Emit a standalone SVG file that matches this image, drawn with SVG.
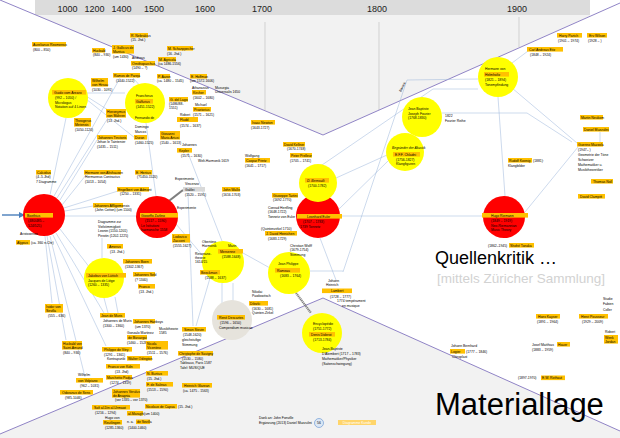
<svg xmlns="http://www.w3.org/2000/svg" width="620" height="438" viewBox="0 0 620 438">
<style>
.t{font-family:"Liberation Sans",Arial,sans-serif;font-size:3.4px;fill:#000}
.i{font-style:italic}
.b{fill:#ffc000}
.gb{fill:#d9d9d9}
.c{stroke:#9ab5da;stroke-width:0.5;fill:none}
.y{fill:#ffff00}
.r{fill:#ff0000}
.v{stroke:#8376bf;stroke-width:0.9;fill:none}
.gl{stroke:#c4c4c4;stroke-width:0.7}
.yr{font-family:"Liberation Sans",Arial,sans-serif;font-size:9px;fill:#222;text-anchor:middle}
.thick{stroke:#7f7f7f;stroke-width:2.2;fill:none}
</style>
<defs>
<marker id="ah" markerWidth="6" markerHeight="6" refX="5" refY="3" orient="auto" markerUnits="userSpaceOnUse"><path d="M0,0 L6,3 L0,6 z" fill="#4a7ebb"/></marker>
</defs>
<rect width="620" height="438" fill="#ffffff"/>
<g id="background">
<polygon points="35,0 590,0 590,16 323,135 35,15" fill="#f2f2f2"/>
<rect x="35" y="0" width="555" height="15" fill="#dcdcdc"/>
<polygon points="0,434 323,298 620,431 620,438 0,438" fill="#f2f2f2"/>
<line class="gl" x1="265" y1="22" x2="265" y2="110"/>
<line class="gl" x1="379" y1="22" x2="379" y2="110"/>
<line class="gl" x1="519" y1="17" x2="519" y2="47"/>
<polyline class="v" points="0,0 323,135 620,3"/>
<polyline class="v" points="0,434 323,298 620,431"/>
<text class="yr" x="67.5" y="11.5">1000</text>
<text class="yr" x="94.5" y="11.5">1200</text>
<text class="yr" x="121.5" y="11.5">1400</text>
<text class="yr" x="154" y="11.5">1500</text>
<text class="yr" x="205" y="11.5">1600</text>
<text class="yr" x="262" y="11.5">1700</text>
<text class="yr" x="377" y="11.5">1800</text>
<text class="yr" x="517" y="11.5">1900</text>
</g>
<g id="connectors">
<path class="c" d="M50,195 L66,118 M54,196 L120,78 M57,198 L108,118 M60,200 L97,140 M62,205 L86,175 M64,208 L118,191 M65,211 L93,206 M65,216 L136,216 M60,229 L90,268 M56,233 L104,313 M53,235 L106,346 M50,236 L85,377 M47,236 L66,340 M45,236 L52,303"/>
<path class="c" d="M86,93 L125,93 M86,96 L108,110 M86,99 L135,138 M133,78 L143,89 M146,123 L156,196 M102,238 L102,258 M104,298 L108,313 M115,297 L118,313"/>
<path class="c" d="M188,193 L193,326 M210,278 L196,326 M188,153 L222,241 M176,224 L203,256 M243,253 L270,268 M222,283 L222,315 M233,283 L233,315 M310,271 L343,271 M320,238 L336,280 M340,216 L482,216 M336,178 L387,155 M338,210 L389,160"/>
<path class="c" d="M478,79 L407,80 L343,272 M478,89 L433,89 L322,165 M442,113 L527,113 L572,142 M498,97 L505,196 M512,88 L577,143 M528,51 L512,63 M600,132 L600,142 M525,212 L578,147"/>
<line class="thick" x1="165" y1="204" x2="183" y2="190"/>
<line class="thick" x1="296" y1="293" x2="311" y2="313" stroke-dasharray="1.2,0.6"/>
<line x1="2" y1="215" x2="24" y2="215" stroke="#4a7ebb" stroke-width="1.4" marker-end="url(#ah)"/>
</g>

<g id="n-boethius"><circle class="r" cx="44" cy="215" r="21"/><rect class="b" x="25" y="213" width="28" height="4.6"/><text class="t" x="27" y="216.5">Boethius</text><text class="t" x="28" y="222">(480/485 –</text><text class="t" x="28" y="226.5">524/525)</text></g>
<g id="n-zarlino"><circle class="r" cx="157" cy="217" r="21"/><rect class="b" x="140" y="213" width="38" height="4.6"/><text class="t" x="141" y="216.5">Gioseffo Zarlino</text><text class="t" x="145" y="222">(1517 – 1590)</text><text class="t" x="141" y="226.5">Le Istitutioni</text><text class="t" x="141" y="231">harmoniche 1558</text></g>
<g id="n-euler"><circle class="r" cx="318" cy="216" r="22"/><rect class="b" x="297" y="214" width="45" height="4.6"/><text class="t" x="307" y="217.5">Leonhard Euler</text><text class="t" x="303" y="223">(1707 – 1783)</text><text class="t" x="300" y="227.5">1739 Tonnetz</text></g>
<g id="n-riemann"><circle class="r" cx="504" cy="217" r="21"/><rect class="b" x="482" y="213" width="46" height="4.6"/><text class="t" x="491" y="216.5">Hugo Riemann</text><text class="t" x="491" y="222">(1849 – 1919)</text><text class="t" x="491" y="226.5">Neo-Riemannian</text><text class="t" x="491" y="231">Music Theory</text></g>

<g id="n-guido"><circle class="y" cx="68" cy="98" r="20"/><rect class="b" x="52" y="90" width="34" height="4.6"/><text class="t" x="54" y="93.5">Guido vom Arezzo</text><text class="t" x="55" y="99">(992 – 1050) /</text><text class="t" x="55" y="103.5">Micrologus</text><text class="t" x="55" y="108">Notation auf 4 Linien</text></g>
<g id="n-gafurius"><circle class="y" cx="145" cy="103" r="20"/><text class="t" x="136" y="97">Franchinus</text><rect class="b" x="135" y="99" width="18" height="4.6"/><text class="t" x="136" y="102.5">Gaffurius</text><text class="t" x="136" y="108">(1451-1522)</text><text class="t" x="135" y="119">Fernando de</text></g>
<g id="n-fourier"><circle class="y" cx="422" cy="117" r="20"/><text class="t" x="408" y="110">Jean Baptiste</text><text class="t" x="408" y="114.5">Joseph Fourier</text><text class="t" x="408" y="119">(1768-1830)</text><text class="t" x="445" y="117">1822</text><text class="t" x="445" y="121.5">Fourier Reihe</text></g>
<g id="n-helmholtz"><circle class="y" cx="498" cy="77" r="20"/><text class="t" x="485" y="70">Hermann von</text><rect class="b" x="484" y="72" width="25" height="4.6"/><text class="t" x="485" y="75.5">Helmholtz</text><text class="t" x="485" y="81">(1821 – 1894)</text><text class="t" x="485" y="85.5">Tonempfindung</text></g>
<g id="n-chladni"><circle class="y" cx="405" cy="152" r="19"/><text class="t i" x="392" y="149">Begründer der Akustik</text><rect class="b" x="393" y="152" width="27" height="4.6"/><text class="t" x="395" y="155.5">E.F.F. Chladni</text><text class="t" x="396" y="160.5">(1756-1827)</text><text class="t" x="396" y="165">Klangfiguren</text></g>
<g id="n-bernoulli"><circle class="y" cx="318" cy="183" r="19"/><rect class="b" x="305" y="178" width="24" height="4.6"/><text class="t i" x="307" y="181.5">D. Bernoulli</text><text class="t" x="308" y="187">(1700-1782)</text></g>
<g id="n-mersenne"><circle class="y" cx="223" cy="262" r="21"/><text class="t" x="228" y="247">Marin</text><rect class="b" x="218" y="249" width="25" height="4.6"/><text class="t" x="220" y="252.5">Mersenne</text><text class="t" x="222" y="257.5">(1588-1648)</text></g>
<g id="n-rameau"><circle class="y" cx="289" cy="273" r="21"/><text class="t" x="278" y="265">Jean Philippe</text><rect class="b" x="275" y="268" width="25" height="4.6"/><text class="t" x="277" y="271.5">Rameau</text><text class="t" x="280" y="277">(1683 – 1764)</text></g>
<g id="n-jakobus"><circle class="y" cx="104" cy="278" r="20"/><rect class="b" x="86" y="273" width="40" height="4.6"/><text class="t" x="88" y="276.5">Jakobus von Lüttich</text><text class="t" x="88" y="281.5">Jacques de Liège</text><text class="t" x="88" y="286">(1260 – 1335)</text></g>
<g id="n-diderot"><circle class="y" cx="322" cy="333" r="20"/><text class="t" x="313" y="325">Encyclopédie</text><text class="t" x="313" y="329.5">(1751-1772)</text><rect class="b" x="309" y="332" width="26" height="4.6"/><text class="t" x="311" y="335.5">Denis Diderot</text><text class="t" x="313" y="341">(1713-1784)</text></g>
<g id="n-descartes"><circle cx="232" cy="320" r="20" fill="#e6e3dc"/><rect class="b" x="217" y="315" width="28" height="4.6"/><text class="t" x="219" y="318.5">René Descartes</text><text class="t" x="220" y="324">(1596 – 1650)</text><text class="t" x="219" y="328.5">Compendium musicae</text></g>

<g id="n-aurelianus"><rect class="b" x="32" y="42" width="34" height="4.6"/><text class="t" x="33" y="45.5">Aurelianus Reomensis</text><text class="t" x="33" y="51">(800 – 850)</text></g>
<g id="n-hucbald"><rect class="b" x="92" y="48" width="13" height="4.6"/><text class="t" x="93" y="51.5">Hucbald</text><text class="t" x="93" y="56">(840 – 930)</text></g>
<g id="n-nebra"><rect class="b" x="130" y="33" width="18" height="4.6"/><text class="t" x="131" y="36.5">R. Nebrakius</text><text class="t" x="131" y="41">(15. Jhd.)</text></g>
<g id="n-gallicus"><rect class="b" x="112" y="45" width="22" height="8.6"/><text class="t" x="113" y="48.5">J. Gallicus de</text><text class="t" x="113" y="52.5">Mantua</text><text class="t" x="113" y="57.5">(um 1430)</text></g>
<g id="n-ornitho"><text class="t" x="132" y="58.5">Andreas</text><rect class="b" x="131" y="61" width="24" height="4.6"/><text class="t" x="132" y="64.5">Ornithoparchus</text><text class="t" x="132" y="69">(1490 – ?)</text></g>
<g id="n-ramos"><rect class="b" x="113" y="73" width="27" height="4.6"/><text class="t" x="114" y="76.5">Ramos de Pareja</text><text class="t" x="116" y="81.5">(1440-1522)</text></g>
<g id="n-hirsau"><rect class="b" x="91" y="78" width="17" height="8.6"/><text class="t" x="92" y="81.5">Wilhelm</text><text class="t" x="92" y="85.5">von Hirsau</text><text class="t" x="92" y="91">(1030 - 1091)</text></g>
<g id="n-theogerus"><rect class="b" x="74" y="118" width="17" height="8.6"/><text class="t" x="75" y="121.5">Theogerus</text><text class="t" x="75" y="125.5">Metensis</text><text class="t" x="75" y="130.5">(1050-1120)</text></g>
<g id="n-hieronymus"><rect class="b" x="106" y="109" width="20" height="8.6"/><text class="t" x="107" y="112.5">Hieronymus</text><text class="t" x="107" y="116.5">von Mähren</text><text class="t" x="107" y="121.5">(13. Jhd.)</text></g>
<g id="n-duran"><text class="t" x="135" y="128">Domingo</text><text class="t" x="135" y="132.5">Marcos</text><rect class="b" x="134" y="135" width="13" height="4.6"/><text class="t" x="135" y="138.5">Duran</text><text class="t" x="135" y="144">(1460-1525)</text></g>
<g id="n-tinctoris"><rect class="b" x="97" y="135" width="30" height="4.6"/><text class="t" x="98" y="138.5">Johannes Tinctoris</text><text class="t" x="97" y="143">Jehan le Taintenier</text><text class="t" x="97" y="147.5">(1435 – 1511)</text></g>
<g id="n-schanppecher"><rect class="b" x="167" y="46" width="26" height="4.6"/><text class="t" x="168" y="49.5">M. Schanppecher</text><text class="t" x="167" y="54.5">(16. Jhd.)</text></g>
<g id="n-agricola"><rect class="b" x="158" y="57" width="18" height="4.6"/><text class="t" x="159" y="60.5">M. Agricola</text><text class="t" x="158" y="65">(ca 1486-1556)</text></g>
<g id="n-aaron"><rect class="b" x="157" y="74" width="13" height="4.6"/><text class="t" x="158" y="77.5">P. Aaron</text><text class="t" x="157" y="82">(ca. 1480 – 1545)</text></g>
<g id="n-hoffman"><rect class="b" x="190" y="74" width="17" height="4.6"/><text class="t" x="191" y="77.5">E. Hoffman</text><text class="t" x="190" y="82">(um 1572-1606)</text></g>
<g id="n-kircher"><text class="t" x="192" y="88.5">Athanasius</text><rect class="b" x="192" y="90" width="14" height="4.6"/><text class="t" x="193" y="93.5">Kircher</text><text class="t" x="193" y="98.5">(1602 – 1680)</text><text class="t" x="215" y="88.5">Musurgia</text><text class="t" x="215" y="93">Universalis 1650</text></g>
<g id="n-dellago"><rect class="b" x="169" y="97" width="19" height="4.6"/><text class="t" x="170" y="100.5">G. del Lago</text><text class="t" x="169" y="105">(1486/88-</text><text class="t" x="169" y="109">1551)</text></g>
<g id="n-praetorius"><text class="t" x="195" y="105.5">Michael</text><rect class="b" x="193" y="107" width="18" height="4.6"/><text class="t" x="194" y="110.5">Praetorius</text><text class="t" x="193" y="115.5">(1571 – 1621)</text></g>
<g id="n-fludd"><text class="t" x="180" y="115.5">Robert</text><rect class="b" x="177" y="117" width="21" height="5"/><text class="t" x="180" y="120.8">Fludd</text><text class="t" x="180" y="126.5">(1574 – 1637)</text></g>
<g id="n-artusi"><rect class="b" x="160" y="131" width="20" height="8.6"/><text class="t" x="161" y="134.5">Giovanni</text><text class="t" x="161" y="138.5">Maria Artusi</text><text class="t" x="160" y="143.5">(1540 – 1613)</text></g>
<g id="n-kepler"><text class="t" x="182" y="145.5">Johannes</text><rect class="b" x="177" y="148" width="15" height="4.6"/><text class="t" x="179" y="151.5">Kepler</text><text class="t" x="181" y="156.5">(1571 – 1630)</text><text class="t" x="198" y="161.5">Welt-Harmonik 1619</text></g>
<g id="n-newton"><rect class="b" x="251" y="120" width="24" height="4.6"/><text class="t" x="252" y="123.5">Isaac Newton</text><text class="t" x="251" y="128.5">(1643-1727)</text></g>
<g id="n-kellner"><rect class="b" x="283" y="142" width="22" height="4.6"/><text class="t" x="284" y="145.5">David Kellner</text><text class="t" x="287" y="150">(1670-1748)</text></g>
<g id="n-prelleur"><rect class="b" x="290" y="153" width="22" height="4.6"/><text class="t" x="291" y="156.5">Peter Prelleur</text><text class="t" x="290" y="161.5">(1705 – 1741)</text></g>
<g id="n-printz"><text class="t" x="245" y="156.5">Wolfgang</text><rect class="b" x="245" y="158" width="25" height="4.6"/><text class="t" x="246" y="161.5">Caspar Printz</text><text class="t" x="245" y="166.5">(1641 – 1717)</text></g>
<g id="n-wallis"><rect class="b" x="222" y="187" width="18" height="4.6"/><text class="t" x="223" y="190.5">John Wallis</text><text class="t" x="222" y="195.5">(1616-1703)</text></g>
<g id="n-galilei"><text class="t" x="175" y="179.5">Experimente</text><text class="t" x="185" y="185">Vincenzo</text><rect class="gb" x="183" y="187" width="22" height="4.6"/><text class="t" x="185" y="190.5">Galilei</text><text class="t" x="185" y="196">(1520 – 1591)</text><text class="t" x="177" y="208.5">Experimente</text></g>
<g id="n-tartini"><rect class="b" x="272" y="193" width="26" height="4.6"/><text class="t" x="273" y="196.5">Giuseppe Tartini</text><text class="t" x="273" y="201">(1692-1770)</text></g>
<g id="n-henfling"><text class="t" x="268" y="208.5">Conrad Henfling</text><text class="t" x="268" y="213">(1648-1722)</text><text class="t" x="268" y="217.5">Tonnetz von Euler</text></g>
<g id="n-heinichen"><text class="t" x="261" y="229.5">(Quintenzirkel 1710)</text><rect class="b" x="265" y="231" width="32" height="4.6"/><text class="t" x="266" y="234.5">J. David Heinichen</text><text class="t" x="268" y="240">(1683-1729)</text></g>
<g id="n-wolff"><text class="t" x="290" y="246.5">Christian Wolff</text><text class="t" x="290" y="251">(1679-1754)</text><text class="t" x="290" y="255.5">Stimmung</text></g>
<g id="n-obertone"><text class="t" x="202" y="242.5">Obertöne</text><text class="t" x="202" y="246.5">Harmonik</text></g>
<g id="n-beeckman"><text class="t" x="195" y="254.5">Resonanz-</text><text class="t" x="195" y="258.5">theorie</text><text class="t" x="195" y="262.5">1614/15</text><rect class="b" x="200" y="270" width="20" height="4.6"/><text class="t" x="201" y="273.5">Beeckman</text><text class="t" x="205" y="279">(1588 – 1637)</text></g>
<g id="n-zacconi"><rect class="b" x="172" y="234" width="18" height="8.6"/><text class="t" x="173" y="237.5">Lodovico</text><text class="t" x="173" y="241.5">Zacconi</text><text class="t" x="173" y="246.5">(1555-1627)</text></g>
<g id="n-aristoxenos"><text class="t" x="20" y="234.5">Aristoxenos</text></g>
<g id="n-alypius"><rect class="b" x="16" y="240" width="14" height="4.6"/><text class="t" x="17" y="243.5">Alypius</text><text class="t" x="31" y="243.5">(ca. 360 n.Chr)</text></g>
<g id="n-calcidius"><rect class="b" x="36" y="170" width="15" height="4.6"/><text class="t" x="37" y="173.5">Calcidius</text><text class="t" x="36" y="178">(4.-5.Jhd)</text><text class="t" x="36" y="182.5">7 Diagramme</text></g>
<g id="n-hermann"><rect class="b" x="84" y="170" width="37" height="4.6"/><text class="t" x="85" y="173.5">Hermann von Altshausen</text><text class="t" x="85" y="178">Hermannus Contractus</text><text class="t" x="85" y="182.5">(1013 – 1054)</text></g>
<g id="n-hertius"><rect class="b" x="135" y="170" width="17" height="4.6"/><text class="t" x="136" y="173.5">E. Hertius</text><text class="t" x="137" y="178">(?1450-1520)</text></g>
<g id="n-engelbert"><rect class="b" x="117" y="187" width="32" height="4.6"/><text class="t" x="118" y="190.5">Engelbert von Admont</text><text class="t" x="120" y="195">(1250 – 1331)</text></g>
<g id="n-affligem"><rect class="b" x="93" y="203" width="30" height="4.6"/><text class="t" x="94" y="206.5">Johannes Affligemensis</text><text class="t" x="95" y="211">(John Cotton) (um 1100)</text></g>
<g id="n-diagramme"><text class="t" x="98" y="223">Diagramme zur</text><text class="t" x="98" y="227.5">Vielstimmigkeit</text><text class="t" x="98" y="232">Leonin (1150-1201)</text><text class="t" x="98" y="236.5">Perotin (1202-1225)</text></g>
<g id="n-amerus"><rect class="b" x="107" y="244" width="16" height="4.6"/><text class="t" x="109" y="247.5">Amerus</text><text class="t" x="110" y="252.5">(13. Jhd.)</text></g>
<g id="n-boen"><rect class="b" x="123" y="259" width="29" height="4.6"/><text class="t" x="125" y="262.5">Johannes Boen</text><text class="t" x="125" y="267.5">(1302-1367)</text></g>
<g id="n-johsel"><rect class="b" x="133" y="272" width="22" height="4.6"/><text class="t" x="134" y="275.5">Johannes Seld</text><text class="t" x="135" y="280.5">(? 1340)</text></g>
<g id="n-franco2"><rect class="b" x="138" y="284" width="17" height="4.6"/><text class="t" x="139" y="287.5">Franco</text><text class="t" x="139" y="292.5">(13. Jhd.)</text></g>
<g id="n-isidor"><rect class="b" x="45" y="304" width="18" height="8.6"/><text class="t" x="46" y="307.5">Isidor von</text><text class="t" x="46" y="311.5">Sevilla</text><text class="t" x="48" y="317">(555 – 636)</text></g>
<g id="n-muris"><rect class="b" x="100" y="313" width="25" height="4.6"/><text class="t" x="101" y="316.5">Jean de Muris</text><text class="t" x="103" y="322">Johannes de Muris</text><text class="t" x="103" y="326.5">(1300 – 1360)</text></g>
<g id="n-hanboys"><rect class="b" x="133" y="319" width="22" height="4.6"/><text class="t" x="134" y="322.5">Johannes Hanboys</text><text class="t" x="135" y="327.5">(um 1370)</text></g>
<g id="n-bizcargui"><text class="t" x="127" y="333.5">Gonzalo Martinez</text><rect class="b" x="127" y="335" width="20" height="4.6"/><text class="t" x="128" y="338.5">de Bizcargui</text><text class="t" x="127" y="344">(1460 – 1528)</text></g>
<g id="n-hucbald2"><rect class="b" x="62" y="341" width="20" height="8.6"/><text class="t" x="63" y="344.5">Hucbald von</text><text class="t" x="63" y="348.5">Saint-Amand</text><text class="t" x="63" y="354">(840 – 930)</text></g>
<g id="n-vitry"><rect class="b" x="102" y="347" width="30" height="4.6"/><text class="t" x="104" y="350.5">Philippe de Vitry</text><text class="t" x="104" y="355.5">(1291 – 1361)</text><text class="t" x="107" y="360">Kontrapunkt</text></g>
<g id="n-odington"><rect class="b" x="127" y="356" width="25" height="4.6"/><text class="t" x="128" y="359.5">Walter Odington</text></g>
<g id="n-franco"><rect class="b" x="106" y="364" width="34" height="4.6"/><text class="t" x="108" y="367.5">Franco von Köln</text><text class="t" x="115" y="372.5">(13. Jhd)</text></g>
<g id="n-marchetto"><rect class="b" x="106" y="375" width="26" height="4.6"/><text class="t" x="107" y="378.5">Marchetto Padua</text><text class="t" x="110" y="383.5">(1274 – 1319)</text></g>
<g id="n-volpiano"><text class="t" x="78" y="375.5">Wilhelm</text><rect class="b" x="76" y="378" width="27" height="4.6"/><text class="t" x="78" y="381.5">von Volpiano</text><text class="t" x="80" y="386.5">(962 – 1031)</text></g>
<g id="n-odoranus"><rect class="b" x="60" y="390" width="33" height="4.6"/><text class="t" x="62" y="393.5">Odoranus de Sens</text><text class="t" x="65" y="398.5">(985-1046)</text></g>
<g id="n-verulus"><rect class="b" x="112" y="389" width="28" height="8.6"/><text class="t" x="113" y="392.5">Johannes Verulus</text><text class="t" x="113" y="396.5">de Anagnia</text><text class="t" x="115" y="401">(vor 1335 – vor 1370)</text></g>
<g id="n-safi"><rect class="b" x="92" y="405" width="38" height="4.6"/><text class="t" x="94" y="408.5">Safi al-Din al-Urmawi</text><text class="t" x="95" y="413.5">(1216 – 1294)</text></g>
<g id="n-hugo"><text class="t" x="105" y="418.5">Hugo von</text><rect class="b" x="103" y="420" width="19" height="4.6"/><text class="t" x="104" y="423.5">Reutlingen</text><text class="t" x="105" y="429">(1285-1360)</text></g>
<g id="n-maraghi"><rect class="b" x="127" y="411" width="16" height="4.6"/><text class="t" x="128" y="414.5">al-Maraghi</text><text class="t" x="144" y="414.5">(um 1400)</text></g>
<g id="n-sevilla"><text class="t" x="127" y="423">n. a.</text><rect class="b" x="136" y="419.5" width="14" height="4.6"/><text class="t" x="137" y="423">de Sevilla</text><text class="t" x="128" y="429">(1400-1460)</text></g>
<g id="n-vicentino"><rect class="b" x="146" y="341" width="22" height="8.6"/><text class="t" x="147" y="344.5">Nicola</text><text class="t" x="147" y="348.5">Vicentino</text><text class="t" x="147" y="354">(1511 – 1576)</text></g>
<g id="n-burtius"><rect class="b" x="146" y="371" width="22" height="4.6"/><text class="t" x="147" y="374.5">N. Burtius</text><text class="t" x="147" y="379.5">(15. Jhd.)</text></g>
<g id="n-salinas"><rect class="b" x="146" y="382" width="27" height="4.6"/><text class="t" x="147" y="385.5">F. de Salinas</text><text class="t" x="147" y="390.5">(1513 – 1590)</text></g>
<g id="n-glarean"><rect class="b" x="182" y="383" width="30" height="4.6"/><text class="t" x="184" y="386.5">Heinrich Glarean</text><text class="t" x="183" y="391.5">(ca. 1475 - 1563)</text></g>
<g id="n-capua"><rect class="b" x="145" y="404" width="32" height="4.6"/><text class="t" x="146" y="407.5">Nicolaus de Capua</text><text class="t" x="178" y="407.5">(15. Jhd.)</text></g>
<g id="n-stevin"><text class="t" x="159" y="330">Musiktheorie</text><text class="t" x="159" y="334">1585</text><rect class="b" x="182" y="327" width="24" height="4.6"/><text class="t" x="184" y="330.5">Simon Stevin</text><text class="t" x="183" y="336">(1548-1620)</text><text class="t" x="182" y="341">gleichstufige</text><text class="t" x="182" y="345.5">Stimmung</text></g>
<g id="n-savigny"><rect class="b" x="178" y="351" width="35" height="4.6"/><text class="t" x="179" y="354.5">Christophe de Savigny</text><text class="t" x="182" y="359.5">(1530 – 1580)</text><text class="t" x="180" y="364">Tableaux, Paris 1587</text><text class="t" x="180" y="368.5">Tafel: MUSIQUE</text></g>
<g id="n-diletsky"><text class="t" x="252" y="292.5">Nikolai</text><text class="t" x="252" y="297">Pawlowitsch</text><rect class="b" x="249" y="301" width="19" height="4.6"/><text class="t" x="250" y="304.5">Dilezki</text><text class="t" x="252" y="309.5">(1630 – 1681)</text><text class="t" x="252" y="314">Quinten-Zirkel</text></g>
<g id="n-dalembert"><text class="t" x="322" y="350">Jean-Baptiste</text><text class="t" x="322" y="355">D'Alembert (1717 – 1783)</text><text class="t" x="322" y="360">Mathematiker/Physiker</text><text class="t" x="322" y="365">(Saitenschwingung)</text></g>
<g id="n-lambert"><text class="t" x="328" y="281.5">Johann</text><text class="t" x="326" y="286">Heinrich</text><rect class="b" x="322" y="288.5" width="30" height="4.6"/><text class="t" x="331" y="292">Lambert</text><text class="t" x="330" y="297.5">(1728 – 1777)</text><text class="t" x="337" y="302">1774 tempérament</text><text class="t" x="342" y="306.5">en musique</text></g>
<g id="n-eitz"><rect class="b" x="527" y="47" width="36" height="4.6"/><text class="t" x="529" y="50.5">Carl Andreas Eitz</text><text class="t" x="530" y="55.5">(1848 – 1924)</text></g>
<g id="n-partch"><rect class="b" x="557" y="33" width="25" height="4.6"/><text class="t" x="559" y="36.5">Harry Partch</text><text class="t" x="558" y="41.5">(1901 – 1974)</text></g>
<g id="n-wilson"><rect class="b" x="587" y="33" width="20" height="4.6"/><text class="t" x="589" y="36.5">Erv Wilson</text><text class="t" x="588" y="41.5">(1928 – )</text></g>
<g id="n-neukom"><rect class="b" x="580" y="115" width="23" height="4.6"/><text class="t" x="581" y="118.5">Martin Neukom</text></g>
<g id="n-muzzulini"><rect class="b" x="583" y="127" width="26" height="4.6"/><text class="t" x="584" y="130.5">Daniel Muzzulini</text></g>
<g id="n-mazzola"><rect class="b" x="577" y="142" width="26" height="4.6"/><text class="t" x="578" y="145.5">Guerino Mazzola</text><text class="t" x="578" y="151">(1947– )</text><text class="t" x="578" y="156">Geometrie der Töne</text><text class="t" x="578" y="161">Schweizer</text><text class="t" x="578" y="166">Mathematiker u.</text><text class="t" x="578" y="171">Musiktheoretiker</text></g>
<g id="n-koenig"><rect class="b" x="508" y="158" width="24" height="4.6"/><text class="t" x="509" y="161.5">Rudolf Koenig</text><text class="t" x="533" y="161.5">(1881):</text><text class="t" x="508" y="166.5">Klangbilder</text></g>
<g id="n-noll"><rect class="b" x="591" y="179" width="22" height="4.6"/><text class="t" x="593" y="182.5">Thomas Noll</text></g>
<g id="n-clampitt"><rect class="b" x="578" y="194" width="27" height="4.6"/><text class="t" x="580" y="197.5">David Clampitt</text></g>
<g id="n-tanaka"><text class="t" x="488" y="246.5">(1862–1945)</text><rect class="b" x="509" y="243" width="25" height="4.6"/><text class="t" x="510" y="246.5">Shohé Tanaka</text></g>
<g id="n-logier"><text class="t" x="451" y="346.5">Johann Bernhard</text><rect class="b" x="450" y="349" width="15" height="4.6"/><text class="t" x="451" y="352.5">Logier</text><text class="t" x="466" y="352.5">(1777 – 1846)</text><text class="t" x="452" y="357.5">Chiroplast</text></g>
<g id="n-kayser"><rect class="b" x="536" y="314" width="24" height="4.6"/><text class="t" x="538" y="317.5">Hans Kayser</text><text class="t" x="537" y="322.5">(1891 – 1964)</text></g>
<g id="n-pousseur"><rect class="b" x="579" y="314" width="29" height="4.6"/><text class="t" x="581" y="317.5">Henri Pousseur</text><text class="t" x="582" y="322.5">(1929 – 2009)</text></g>
<g id="n-studie"><text class="t" x="603" y="299.5">Studie</text><text class="t" x="603" y="305">Fabien</text><text class="t" x="603" y="310.5">Coller</text></g>
<g id="n-robert"><text class="t" x="605" y="332.5">Robert</text><rect class="b" x="604" y="335" width="14" height="8.6"/><text class="t" x="605" y="338.5">Wenk</text><text class="t" x="605" y="342.5">Jordan</text></g>
<g id="n-hauer"><text class="t" x="532" y="345.5">Josef Matthias</text><rect class="b" x="557" y="342" width="13" height="4.6"/><text class="t" x="558" y="345.5">Hauer</text><text class="t" x="532" y="350.5">(1883 – 1959)</text></g>
<g id="n-rothaut"><text class="t" x="518" y="379">(1897-1970)</text><rect class="b" x="541" y="375.5" width="24" height="4.6"/><text class="t" x="542" y="379">E.W. Rothaut</text></g>
<g id="n-epoch"><text class="t" x="0" y="0" transform="translate(401,92) rotate(-62)">Barock</text></g>
<g id="titles">
<text x="435" y="264" font-family="Liberation Sans, Arial, sans-serif" font-size="18" fill="#000">Quellenkritik …</text>
<text x="437" y="283" font-family="Liberation Sans, Arial, sans-serif" font-size="13.5" fill="#d2d2d2">[mittels Züricher Sammlung]</text>
<text x="435" y="415" font-family="Liberation Sans, Arial, sans-serif" font-size="31" fill="#000">Materiallage</text>
</g>
<g id="footer">
<text class="t" x="259" y="418.5">Dank an: John Fonville</text>
<text class="t" x="259" y="423.5">Ergänzung (2013) Daniel Muzzulini</text>
<circle cx="319" cy="423" r="4.5" fill="#dde8f5" stroke="#5b8fd0" stroke-width="0.6"/>
<text class="t" x="319" y="424.2" text-anchor="middle">56</text>
<rect x="338" y="420" width="38" height="5" fill="#ffd56a"/>
<text class="t" x="357" y="423.6" text-anchor="middle" style="fill:#fff">Diagramme Kunde</text>
</g>
</svg>
